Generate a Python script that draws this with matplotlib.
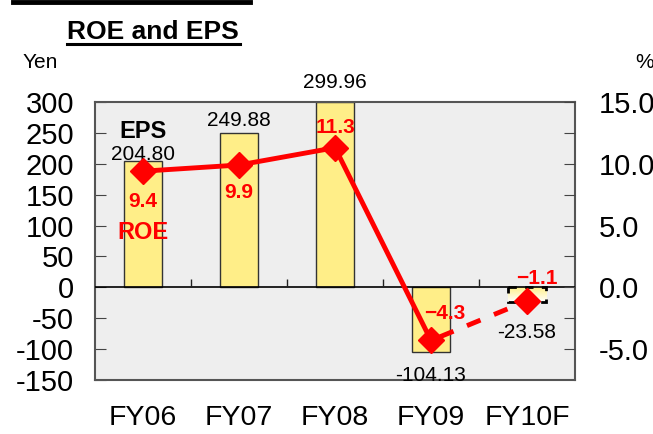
import numpy as np
import matplotlib
matplotlib.use("Agg")
import matplotlib.pyplot as plt
from matplotlib.lines import Line2D

plt.rcParams["font.family"] = ["Liberation Sans", "DejaVu Sans"]
plt.rcParams["axes.unicode_minus"] = False

years = ["FY06", "FY07", "FY08", "FY09", "FY10F"]
eps = [204.80, 249.88, 299.96, -104.13, -23.58]
roe = [9.4, 9.9, 11.3, -4.3, -1.1]

# label offsets in pixels (dx, dy)
eps_off = [(0, -3), (0, 3), (0, 10), (0, -14), (0, -21)]
roe_off = [(0, -30), (0, -27), (0, 20), (14, 27), (10, 22)]

fig = plt.figure(figsize=(6.53, 4.34), dpi=100)
ax = fig.add_axes([0.1455, 0.1244, 0.7351, 0.6406])
ax.set_facecolor("#eeeeee")

x = np.arange(len(years))
bars = ax.bar(x, eps, width=0.4, color="#ffee88", edgecolor="#333333", linewidth=1, zorder=2)

# forecast bar: dashed edge with a fading fill
fb = bars[-1]
fb.set_facecolor("none")
fb.set_linestyle((0, (3, 3)))
fb.set_linewidth(2)
fb.set_edgecolor("black")
grad = np.linspace(0, 1, 50).reshape(-1, 1)
bx, by = fb.get_x(), fb.get_y()
im = ax.imshow(grad, extent=[bx, bx + fb.get_width(), by + fb.get_height(), by],
               aspect="auto", cmap=matplotlib.colors.LinearSegmentedColormap.from_list(
                   "fade", ["#fff08a", "#ffffff"]), zorder=1.9, origin="upper")
im.set_clip_path(fb)

ax.set_xlim(-0.5, len(years) - 0.5)
ax.set_ylim(-150, 300)
ax.set_yticks(np.arange(-150, 301, 50))
ax.tick_params(axis="y", direction="in", length=8, labelsize=21, pad=15, color="#444444")
ax.set_xticks(x)
ax.set_xticklabels(years)
ax.tick_params(axis="x", length=0, labelsize=20.5, pad=18)
ax.axhline(0, color="black", linewidth=1.2, zorder=3)
ax.vlines(x[:-1] + 0.5, 0, 13, color="#222222", linewidth=1, zorder=3)
for s in ax.spines.values():
    s.set_color("#555555")
    s.set_linewidth(1.5)

for i, v in enumerate(eps):
    dx, dy = eps_off[i]
    ax.annotate(f"{v:.2f}", (x[i], v), xytext=(dx, dy), textcoords="offset pixels",
                ha="center", va="bottom" if v > 0 else "top", fontsize=15,
                color="black", zorder=5, annotation_clip=False)

ax2 = ax.twinx()
ax2.set_ylim(-7.5, 15)
rt = np.arange(-5, 15.1, 2.5)
ax2.set_yticks(rt)
ax2.set_yticklabels([f"{t:.1f}" if t % 5 == 0 else "" for t in rt])
ax2.tick_params(axis="y", direction="in", length=8, labelsize=21, pad=17, color="#444444")
for s in ax2.spines.values():
    s.set_visible(False)

ax2.plot(x[:4], roe[:4], color="#ff0000", linewidth=3.5, marker="D", markersize=13,
         zorder=4, solid_joinstyle="round")
ax2.plot(x[3:], roe[3:], color="#ff0000", linewidth=3.5, linestyle=(4, (3, 3)), zorder=4)
ax2.plot(x[4:], roe[4:], color="#ff0000", linestyle="none", marker="D", markersize=13, zorder=4)

for i, v in enumerate(roe):
    dx, dy = roe_off[i]
    ax2.annotate(f"{v:.1f}".replace("-", "\u2212"), (x[i], v), xytext=(dx, dy),
                 textcoords="offset pixels", ha="center", va="center", fontsize=15,
                 fontweight="bold", color="#ff0000", zorder=6)

ax2.annotate("EPS", (x[0], eps[0]), xytext=(0, 18), textcoords="offset pixels",
             xycoords=ax.transData, ha="center", va="bottom", fontsize=17,
             fontweight="bold", color="black")
ax2.annotate("ROE", (x[0], roe[0]), xytext=(0, -61), textcoords="offset pixels",
             ha="center", va="center", fontsize=17, fontweight="bold", color="#ff0000")

fig.text(153 / 653, 1 - 32 / 434, "ROE and EPS", ha="center", va="center",
         fontsize=19, fontweight="bold")
fig.add_artist(Line2D([67 / 653, 240 / 653], [1 - 44 / 434] * 2, color="black", linewidth=2.2))
fig.add_artist(Line2D([13 / 653, 250 / 653], [1 - 2 / 434] * 2, color="black", linewidth=3.5))
fig.text(40 / 653, 1 - 62 / 434, "Yen", ha="center", va="center", fontsize=15)
fig.text(645 / 653, 1 - 62 / 434, "%", ha="center", va="center", fontsize=15)

fig.savefig("out.png", dpi=100)
